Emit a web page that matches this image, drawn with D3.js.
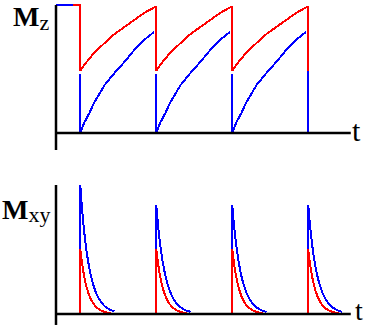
<!DOCTYPE html>
<html>
<head>
<meta charset="utf-8">
<script src="https://cdn.jsdelivr.net/npm/d3@7"></script>
<style>
  html, body { margin: 0; padding: 0; background: #fff; }
  svg { display: block; }
</style>
</head>
<body>
<svg id="chart" width="365" height="325"></svg>
<script>
// ---- data ----
const pulseTimes = [0, 100, 200, 300];           // RF pulse times
const initialLevel = 1.0;                         // Mz before first pulse
const initialBlueSpan = [-32, -9];                // blue flat segment
const initialRedSpan = [-9, 0];                   // red flat segment

// Mz recovery after each pulse (time offset, value)
const redRecoveryT = [0, 5, 18, 32, 45, 58, 71, 84, 97, 100];
const redRecoveryV = [0.484, 0.531, 0.625, 0.703, 0.773, 0.828, 0.883, 0.938, 0.980, 0.985];
const blueRecoveryT = [0, 5, 12, 18, 32, 45, 58, 71, 84, 97];
const blueRecoveryV = [0.0, 0.078, 0.156, 0.234, 0.375, 0.469, 0.555, 0.648, 0.727, 0.789];
const blueDropTop = [0.46, 0.46, 0.46, 0.484];     // top of blue vertical at each pulse

// Mxy decay after each pulse (time offset, fraction of peak)
const blueDecayT = [0, 1.5, 3, 4.5, 6, 8, 10, 12, 14, 17, 20, 24, 28, 32, 36, 40, 45];
const blueDecayV = [1, 0.877, 0.77, 0.675, 0.59, 0.497, 0.418, 0.35, 0.295, 0.227, 0.174, 0.123, 0.087, 0.061, 0.043, 0.030, 0.02];
const redDecayT = [0, 1.5, 3, 4.5, 6, 8, 10, 12, 14, 17, 20, 24, 28, 32, 36, 40];
const redDecayV = [1, 0.85, 0.725, 0.617, 0.526, 0.425, 0.343, 0.277, 0.223, 0.162, 0.117, 0.077, 0.05, 0.033, 0.021, 0.014];
const bluePeaks = [1.0, 0.845, 0.845, 0.845];
const redPeaks = [0.504, 0.504, 0.504, 0.504];

const timeDomain = [-32, 355];
const axisEndT = 356;

// ---- drawing ----
const svg = d3.select("#chart");
const RED = "#ff0000", BLUE = "#0000ff";

const x = d3.scaleLinear().domain(timeDomain).range([56, 350]);
const yTop = d3.scaleLinear().domain([0, 1]).range([133, 5]);
const yBot = d3.scaleLinear().domain([0, 1]).range([314, 185]);

const line = (ys) => d3.line().x(d => x(d[0])).y(d => ys(d[1]));

function path(g, pts, ys, color) {
  g.append("path")
    .attr("d", line(ys)(pts))
    .attr("fill", "none")
    .attr("stroke", color)
    .attr("stroke-width", 2)
    .attr("shape-rendering", "crispEdges");
}

// axes
function axes(ys, yAxisTop, yAxisBottom) {
  const g = svg.append("g");
  g.append("line")
    .attr("x1", x(timeDomain[0])).attr("x2", x(timeDomain[0]))
    .attr("y1", ys(yAxisTop)).attr("y2", ys(yAxisBottom))
    .attr("stroke", "#000").attr("stroke-width", 2.5);
  g.append("line")
    .attr("x1", x(timeDomain[0])).attr("x2", x(axisEndT))
    .attr("y1", ys(0)).attr("y2", ys(0))
    .attr("stroke", "#000").attr("stroke-width", 2.5);
}

// ---- top panel: Mz ----
const gTop = svg.append("g");
// blue
path(gTop, [[initialBlueSpan[0], initialLevel], [initialBlueSpan[1], initialLevel]], yTop, BLUE);
pulseTimes.forEach((p, i) => {
  path(gTop, [[p, blueDropTop[i]], [p, 0]], yTop, BLUE);
  if (i < pulseTimes.length - 1) {
    path(gTop, blueRecoveryT.map((t, j) => [p + t, blueRecoveryV[j]]), yTop, BLUE);
  }
});
// red
path(gTop, [[initialRedSpan[0], initialLevel], [initialRedSpan[1], initialLevel], [0, redRecoveryV[0]]], yTop, RED);
pulseTimes.forEach((p, i) => {
  if (i < pulseTimes.length - 1) {
    const pts = redRecoveryT.map((t, j) => [p + t, redRecoveryV[j]]);
    pts.push([p + redRecoveryT[redRecoveryT.length - 1], redRecoveryV[0]]);
    path(gTop, pts, yTop, RED);
  }
});
axes(yTop, 1.0, -0.133);

// ---- bottom panel: Mxy ----
const gBot = svg.append("g");
pulseTimes.forEach((p, i) => {
  const pts = [[p, 0]].concat(blueDecayT.map((t, j) => [p + t, bluePeaks[i] * blueDecayV[j]]));
  path(gBot, pts, yBot, BLUE);
});
pulseTimes.forEach((p, i) => {
  const pts = [[p, 0]].concat(redDecayT.map((t, j) => [p + t, redPeaks[i] * redDecayV[j]]));
  path(gBot, pts, yBot, RED);
});
axes(yBot, 1.0, -0.085);

// ---- labels ----
const serif = "'Liberation Serif', 'Times New Roman', serif";
const mz = svg.append("text").attr("x", 13).attr("y", 26).attr("font-family", serif);
mz.append("tspan").attr("font-weight", "bold").attr("font-size", 28).text("M");
mz.append("tspan").attr("font-size", 22).attr("dy", 4).text("z");

const mxy = svg.append("text").attr("x", 2).attr("y", 219).attr("font-family", serif);
mxy.append("tspan").attr("font-weight", "bold").attr("font-size", 28).text("M");
mxy.append("tspan").attr("font-size", 22).attr("dy", 3).text("xy");

svg.append("text").attr("x", 352).attr("y", 141).attr("font-family", serif)
  .attr("font-size", 30).text("t");
svg.append("text").attr("x", 355).attr("y", 320).attr("font-family", serif)
  .attr("font-size", 28).text("t");
</script>
</body>
</html>
